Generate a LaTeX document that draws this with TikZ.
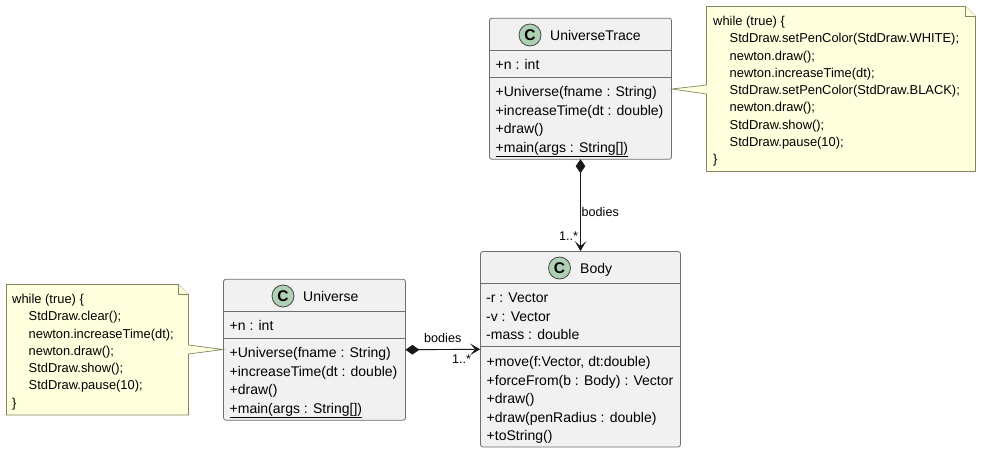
\documentclass[tikz,border=0pt]{standalone}
\usepackage{fontspec}
\setmainfont{Liberation Sans}
\usetikzlibrary{arrows.meta}
\definecolor{boxfill}{HTML}{F1F1F1}
\definecolor{ink}{HTML}{181818}
\definecolor{edge}{HTML}{6E6E6E}
\definecolor{notefill}{HTML}{FEFFDD}
\definecolor{noteline}{HTML}{85855F}
\definecolor{spot}{HTML}{ADD1B2}
\tikzset{
  x=1pt,y=-1pt,
  classbox/.style={draw=edge,fill=boxfill,line width=.8pt,rounded corners=2.5pt,inner sep=0pt,minimum width=#1},
  classbox/.default=182pt,
  row/.style={anchor=base west,inner sep=0pt,font=\fontsize{14}{16}\selectfont,text=black},
  noterow/.style={anchor=base west,inner sep=0pt,font=\fontsize{12.9}{15}\selectfont,text=black},
  lbl/.style={anchor=base west,inner sep=0pt,font=\fontsize{12.6}{15}\selectfont,text=black},
  sep/.style={draw=edge,line width=.8pt},
  noteshape/.style={draw=noteline,fill=notefill,line width=.7pt,line join=miter},
  spotc/.style={circle,draw=ink!80,fill=spot,line width=.8pt,minimum size=22pt,inner sep=0pt,font=\fontsize{15.5}{16}\bfseries\selectfont,text=black},
  link/.style={draw=ink,line width=.9pt},
  opent/.style={-{Stealth[length=10pt,width=11.5pt,inset=5pt]}},
  diam/.style={fill=ink,draw=ink,line width=.5pt,line join=miter},
}
\begin{document}
\begin{tikzpicture}
\useasboundingbox (0,0) rectangle (981,453);
% class boxes
\node[classbox,minimum height=141pt] (ut) at (580.5,88.75) {};
\draw[sep] (ut.west |- 0,50.5) -- (ut.east |- 0,50.5);
\draw[sep] (ut.west |- 0,77.5) -- (ut.east |- 0,77.5);
\node[classbox=200pt,minimum height=195.5pt] (body) at (580.5,349.25) {};
\draw[sep] (body.west |- 0,283.5) -- (body.east |- 0,283.5);
\draw[sep] (body.west |- 0,346.5) -- (body.east |- 0,346.5);
\node[classbox,minimum height=141pt] (univ) at (314.5,349.75) {};
\draw[sep] (univ.west |- 0,311.5) -- (univ.east |- 0,311.5);
\draw[sep] (univ.west |- 0,338) -- (univ.east |- 0,338);
% spots
\node[spotc] (utc) at (530,35) {C};
\node[spotc] (bodyc) at (559.5,268) {C};
\node[spotc] (univc) at (283,296) {C};
% titles
\node[row] (utt) at (550,40) {UniverseTrace};
\node[row] (bodyt) at (580,273) {Body};
\node[row] (univt) at (303,301) {Universe};
% UniverseTrace members
\node[row] (ut1) at (495.5,69.5) {+n : int};
\node[row] (ut2) at (495.5,96) {+Universe(fname : String)};
\node[row] (ut3) at (495.5,115) {+increaseTime(dt : double)};
\node[row] (ut4) at (495.5,133.5) {+draw()};
\node[row] (ut5) at (495.5,152) {\underline{+main(args : String[])}};
% Body members
\node[row] (b1) at (486,302) {-r : Vector};
\node[row] (b2) at (486,321) {-v : Vector};
\node[row] (b3) at (486,339) {-mass : double};
\node[row] (b4) at (486.5,366.5) {+move(f:Vector, dt:double)};
\node[row] (b5) at (486.5,385) {+forceFrom(b : Body) : Vector};
\node[row] (b6) at (486.5,403.5) {+draw()};
\node[row] (b7) at (486.5,422) {+draw(penRadius : double)};
\node[row] (b8) at (486.5,440.5) {+toString()};
% Universe members
\node[row] (u1) at (229.5,330.5) {+n : int};
\node[row] (u2) at (229.5,357.5) {+Universe(fname : String)};
\node[row] (u3) at (229.5,376) {+increaseTime(dt : double)};
\node[row] (u4) at (229.5,394.5) {+draw()};
\node[row] (u5) at (229.5,413) {\underline{+main(args : String[])}};
% notes with their tails
\coordinate (uttip) at (ut.east |- 0,89);
\draw[noteshape] (706.5,6.5) -- (965.5,6.5) -- (975.5,16.5) -- (975.5,171.5) -- (706.5,171.5)
  -- (706.5,94) -- (uttip) -- (706.5,85) -- cycle;
\draw[noteshape] (965.5,6.5) -- (965.5,16.5) -- (975.5,16.5);
\coordinate (unitip) at (univ.west |- 0,349.5);
\draw[noteshape] (6.5,284.5) -- (178.5,284.5) -- (188.5,294.5) -- (188.5,345) -- (unitip) -- (188.5,354) -- (188.5,415) -- (6.5,415) -- cycle;
\draw[noteshape] (178.5,284.5) -- (178.5,294.5) -- (188.5,294.5);
% note text
\node[noterow] (n1) at (713,25) {while (true) \{};
\node[noterow] (n2) at (729.5,42.5) {StdDraw.setPenColor(StdDraw.WHITE);};
\node[noterow] (n3) at (729.5,60) {newton.draw();};
\node[noterow] (n4) at (729.5,77) {newton.increaseTime(dt);};
\node[noterow] (n5) at (729.5,94.5) {StdDraw.setPenColor(StdDraw.BLACK);};
\node[noterow] (n6) at (729.5,111.5) {newton.draw();};
\node[noterow] (n7) at (729.5,129) {StdDraw.show();};
\node[noterow] (n8) at (729.5,146.5) {StdDraw.pause(10);};
\node[noterow] (n9) at (713,163.5) {\}};
\node[noterow] (m1) at (12,303) {while (true) \{};
\node[noterow] (m2) at (28.5,320.5) {StdDraw.clear();};
\node[noterow] (m3) at (28.5,338) {newton.increaseTime(dt);};
\node[noterow] (m4) at (28.5,355) {newton.draw();};
\node[noterow] (m5) at (28.5,372) {StdDraw.show();};
\node[noterow] (m6) at (28.5,389.5) {StdDraw.pause(10);};
\node[noterow] (m7) at (12,407) {\}};
% connectors
\draw[link,opent] (ut.south) -- (body.north);
\draw[diam] (ut.south) -- ++(4.5,6.5) -- ++(-4.5,6.5) -- ++(-4.5,-6.5) -- cycle;
\draw[link,opent] (univ.east) -- (body.west);
\draw[diam] (univ.east) -- ++(6.5,-4.5) -- ++(6.5,4.5) -- ++(-6.5,4.5) -- cycle;
\node[lbl] (l1) at (581.5,216.7) {bodies};
\node[lbl] (l2) at (559,240.7) {1..*};
\node[lbl] (l3) at (424,342.7) {bodies};
\node[lbl] (l4) at (452,363) {1..*};
\end{tikzpicture}
\end{document}
